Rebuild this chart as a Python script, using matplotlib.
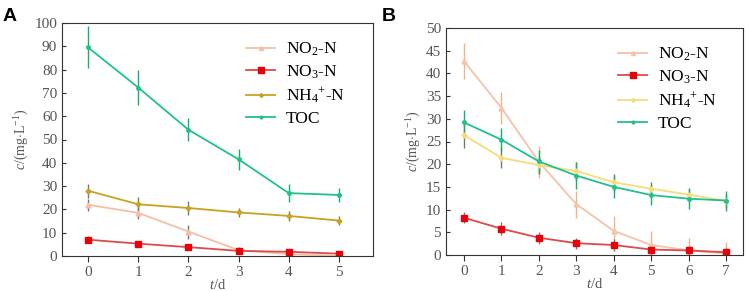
import numpy as np
import matplotlib
matplotlib.use("Agg")
import matplotlib.pyplot as plt
from matplotlib.lines import Line2D

plt.rcParams['font.family'] = ['Liberation Serif', 'DejaVu Serif']
plt.rcParams['mathtext.fontset'] = 'custom'
plt.rcParams['mathtext.rm'] = 'Liberation Serif'
plt.rcParams['mathtext.it'] = 'Liberation Serif:italic'

# panel A
tA = [0, 1, 2, 3, 4, 5]
no2_A = [22.0, 18.5, 10.5, 2.5, 0.8, 0.0]
no2_A_err = [2.5, 2.5, 3.0, 1.5, 1.0, 0.5]
no3_A = [7.0, 5.3, 3.8, 2.2, 1.8, 1.0]
no3_A_err = [1.5, 1.2, 1.2, 1.0, 1.0, 0.8]
nh4_A = [28.0, 22.2, 20.6, 18.7, 17.2, 15.2]
nh4_A_err = [3.0, 3.0, 2.8, 2.0, 2.0, 2.0]
toc_A = [89.5, 72.3, 54.2, 41.5, 27.0, 26.2]
toc_A_err = [9.0, 7.5, 5.0, 4.5, 4.0, 3.0]

# panel B
tB = [0, 1, 2, 3, 4, 5, 6, 7]
no2_B = [42.7, 32.4, 20.5, 11.2, 5.3, 2.2, 1.0, 0.3]
no2_B_err = [4.0, 3.5, 3.5, 3.0, 3.3, 3.0, 2.7, 2.5]
no3_B = [8.2, 5.8, 3.8, 2.6, 2.2, 1.2, 1.0, 0.6]
no3_B_err = [1.2, 1.5, 1.3, 1.2, 1.4, 1.0, 1.0, 1.0]
nh4_B = [26.4, 21.4, 19.8, 18.5, 16.0, 14.6, 13.3, 11.9]
nh4_B_err = [2.8, 2.3, 2.0, 2.0, 1.8, 1.5, 1.5, 1.5]
toc_B = [29.2, 25.4, 20.6, 17.5, 15.0, 13.2, 12.4, 12.0]
toc_B_err = [2.8, 2.5, 2.5, 3.0, 2.5, 2.2, 2.2, 2.2]

labels = ['NO$_2$-N', 'NO$_3$-N', 'NH$_4$$^{+}$-N', 'TOC']

fig = plt.figure(figsize=(7.47, 2.91), dpi=100)
axA = fig.add_axes([62/747, 35/291, 311/747, 233/291])
axB = fig.add_axes([446/747, 36/291, 297/747, 227/291])

def panel(ax, t, series, xlim, ylim, ystep, legx):
    handles = []
    for (y, e, col, ecol, mk, ms), lab in zip(series, labels):
        mfc = '#e8000b' if mk == 's' else col
        ax.errorbar(t, y, yerr=e, color=col, ecolor=ecol, elinewidth=1.0,
                    marker=mk, markersize=ms, markerfacecolor=mfc, markeredgecolor=mfc,
                    linewidth=1.3, capsize=0)
        handles.append(Line2D([], [], color=col, marker=mk, markersize=ms * 0.8,
                              markerfacecolor=mfc, markeredgecolor=mfc, linewidth=1.3, label=lab))
    ax.set_xlim(*xlim)
    ax.set_ylim(*ylim)
    ax.set_xticks(t)
    ax.set_yticks(np.arange(ylim[0], ylim[1] + 0.1, ystep))
    ax.tick_params(axis='x', direction='out', length=4, colors='#333333',
                   labelcolor='#555555', labelsize=11)
    ax.tick_params(axis='y', direction='in', length=3, colors='#333333',
                   labelcolor='#555555', labelsize=11)
    for s in ax.spines.values():
        s.set_color('#333333')
    ax.set_xlabel('$\\mathit{t}$/d', color='#555555', fontsize=10.5, labelpad=-1)
    ax.set_ylabel('$\\mathit{c}$/(mg$\\cdot$L$^{-1}$)', color='#555555', fontsize=10, labelpad=2)
    ax.legend(handles=handles, loc='upper right', frameon=False, fontsize=12.5,
              handlelength=1.7, handletextpad=0.6, labelspacing=0.28,
              bbox_to_anchor=(legx, 0.99))

seriesA = [
    (no2_A, no2_A_err, '#f6bfa3', '#777777', '^', 3.5),
    (no3_A, no3_A_err, '#dc4b4b', '#777777', 's', 5),
    (nh4_A, nh4_A_err, '#c9a21f', '#777777', 'D', 2.5),
    (toc_A, toc_A_err, '#20c08f', '#19b060', 'o', 2.5),
]
seriesB = [
    (no2_B, no2_B_err, '#f6c2a8', '#f3b08c', '^', 3.5),
    (no3_B, no3_B_err, '#dc4b4b', '#777777', 's', 5),
    (nh4_B, nh4_B_err, '#f7dc7a', '#777777', 'D', 2.5),
    (toc_B, toc_B_err, '#20c08f', '#19b060', 'o', 2.5),
]
panel(axA, tA, seriesA, (-0.52, 5.68), (0, 100), 10, 0.96)
panel(axB, tB, seriesB, (-0.48, 7.45), (0, 50), 5, 0.965)

fig.text(3/747, 283/291, 'A', fontsize=14, fontweight='bold', family='Liberation Sans', va='top')
fig.text(382/747, 283/291, 'B', fontsize=14, fontweight='bold', family='Liberation Sans', va='top')

fig.savefig('out.png', dpi=100)
